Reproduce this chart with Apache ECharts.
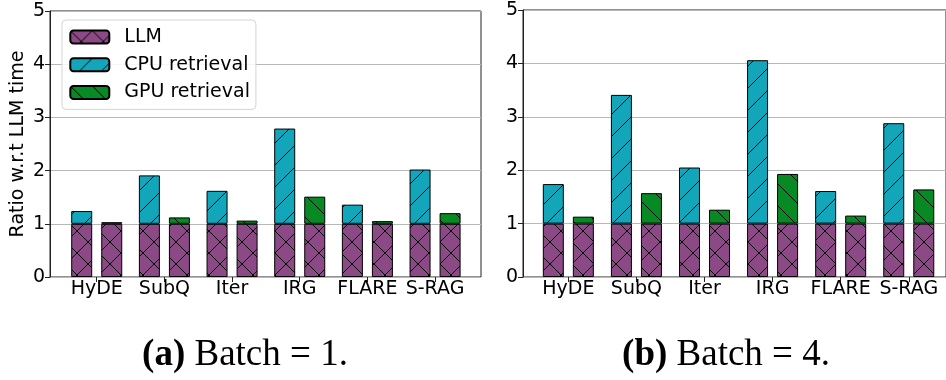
<!DOCTYPE html>
<html>
<head>
<meta charset="utf-8">
<script src="https://cdn.jsdelivr.net/npm/echarts@6/dist/echarts.min.js"></script>
<style>
html,body{margin:0;padding:0;background:#fff;}
#c{width:946px;height:380px;}
</style>
</head>
<body>
<div id="c"></div>
<script>
// ---- data ----
const categories = ['HyDE', 'SubQ', 'Iter', 'IRG', 'FLARE', 'S-RAG'];
const yTicks = [0, 1, 2, 3, 4, 5];
// Batch = 1
const llmB1 = [1, 1, 1, 1, 1, 1];
const cpuB1 = [0.24, 0.91, 0.62, 1.79, 0.36, 1.02];
const gpuB1 = [0.03, 0.12, 0.06, 0.51, 0.05, 0.20];
// Batch = 4
const llmB4 = [1, 1, 1, 1, 1, 1];
const cpuB4 = [0.74, 2.41, 1.05, 3.06, 0.61, 1.88];
const gpuB4 = [0.13, 0.57, 0.26, 0.93, 0.15, 0.64];
const seriesNames = ['LLM', 'CPU retrieval', 'GPU retrieval'];

// ---- hatch patterns ----
function hatch(bg, kinds) {
  const P = 22;
  const cv = document.createElement('canvas');
  cv.width = P; cv.height = P;
  const ctx = cv.getContext('2d');
  ctx.fillStyle = bg;
  ctx.fillRect(0, 0, P, P);
  ctx.strokeStyle = '#000';
  ctx.lineWidth = 1;
  for (const k of [-P, 0, P]) {
    if (kinds.indexOf('/') >= 0) {
      ctx.beginPath(); ctx.moveTo(k - 1, P + 1); ctx.lineTo(k + P + 1, -1); ctx.stroke();
    }
    if (kinds.indexOf('\\') >= 0) {
      ctx.beginPath(); ctx.moveTo(k - 1, -1); ctx.lineTo(k + P + 1, P + 1); ctx.stroke();
    }
  }
  return { image: cv, repeat: 'repeat' };
}
const purple = '#8b4a85', cyan = '#13a6ba', green = '#078a23';
const pLLM = hatch(purple, ['/', '\\']);
const pCPU = hatch(cyan, ['/']);
const pGPU = hatch(green, ['\\']);

const font = 'DejaVu Sans';
const fs = 19;
const axisCol = '#222';

function frameGrid(left, top, width, height) {
  return { left: left, top: top, width: width, height: height, show: true,
    borderColor: axisCol, borderWidth: 1, backgroundColor: 'transparent' };
}

function frameY(gi, withName) {
  return {
    type: 'value', gridIndex: gi, min: 0, max: 5, interval: 1,
    name: withName ? 'Ratio w.r.t LLM time' : '',
    nameLocation: 'middle', nameGap: 22,
    nameTextStyle: { fontFamily: font, fontSize: fs, color: '#000' },
    axisLine: { show: true, lineStyle: { color: axisCol, width: 1 } },
    axisTick: { show: true, length: 5, lineStyle: { color: axisCol } },
    axisLabel: { fontFamily: font, fontSize: fs, color: '#000', margin: 5,
      formatter: function (v) { return yTicks.indexOf(v) >= 0 ? String(v) : ''; } },
    splitLine: { show: true, lineStyle: { color: '#b8b8b8', width: 1 } }
  };
}
function frameX(gi) {
  return { type: 'value', gridIndex: gi, min: 0, max: 1, show: false };
}
function barX(gi) {
  return {
    type: 'category', gridIndex: gi, data: categories, boundaryGap: true,
    axisLine: { show: false },
    axisTick: { show: true, alignWithLabel: true, length: 5, lineStyle: { color: axisCol } },
    axisLabel: { fontFamily: font, fontSize: fs, color: '#000', margin: 3, interval: 0 }
  };
}
function barY(gi) {
  return { type: 'value', gridIndex: gi, min: 0, max: 5, interval: 1, show: false,
    splitLine: { show: false } };
}

function barSeries(xi, llm, cpu, gpu, sfx) {
  const common = { type: 'bar', xAxisIndex: xi, yAxisIndex: xi, barWidth: 21, barGap: '43%',
    emphasis: { disabled: true } };
  const edge = { borderColor: '#000', borderWidth: 1 };
  return [
    Object.assign({}, common, { name: seriesNames[0], stack: 'cpu' + sfx, data: llm,
      itemStyle: Object.assign({ color: pLLM }, edge) }),
    Object.assign({}, common, { name: seriesNames[1], stack: 'cpu' + sfx, data: cpu,
      itemStyle: Object.assign({ color: pCPU }, edge) }),
    Object.assign({}, common, { name: seriesNames[0], stack: 'gpu' + sfx, data: llm,
      itemStyle: Object.assign({ color: pLLM }, edge) }),
    Object.assign({}, common, { name: seriesNames[2], stack: 'gpu' + sfx, data: gpu,
      itemStyle: Object.assign({ color: pGPU }, edge) })
  ];
}

const chart = echarts.init(document.getElementById('c'), null, { renderer: 'canvas' });
chart.setOption({
  animation: false,
  backgroundColor: '#fff',
  grid: [
    frameGrid(50, 11, 431, 266),
    { left: 62.9, top: 11, width: 406, height: 266 },
    frameGrid(523, 10, 431, 267),
    { left: 534.3, top: 10, width: 408.5, height: 267 }
  ],
  xAxis: [frameX(0), barX(1), frameX(2), barX(3)],
  yAxis: [frameY(0, true), barY(1), frameY(2, false), barY(3)],
  legend: {
    orient: 'vertical', left: 62, top: 20,
    data: seriesNames,
    itemWidth: 39, itemHeight: 13, itemGap: 8.7,
    padding: [7.5, 6, 7.5, 7.3],
    backgroundColor: 'rgba(255,255,255,0.85)',
    borderColor: '#d4d4d4', borderWidth: 1, borderRadius: 4,
    selectedMode: false,
    textStyle: { fontFamily: font, fontSize: fs, color: '#000', padding: [0, 0, 0, 10] }
  },
  series: [].concat(barSeries(1, llmB1, cpuB1, gpuB1, 'a'), barSeries(3, llmB4, cpuB4, gpuB4, 'b')),
  graphic: [
    { type: 'text', x: 245, y: 355, silent: true,
      style: { text: '{b|(a)} Batch = 1.', fontFamily: 'Liberation Serif', fontSize: 37, fill: '#000',
        align: 'center', verticalAlign: 'middle',
        rich: { b: { fontWeight: 'bold', fontFamily: 'Liberation Serif', fontSize: 37 } } } },
    { type: 'text', x: 726, y: 355, silent: true,
      style: { text: '{b|(b)} Batch = 4.', fontFamily: 'Liberation Serif', fontSize: 37, fill: '#000',
        align: 'center', verticalAlign: 'middle',
        rich: { b: { fontWeight: 'bold', fontFamily: 'Liberation Serif', fontSize: 37 } } } }
  ]
});
</script>
</body>
</html>
